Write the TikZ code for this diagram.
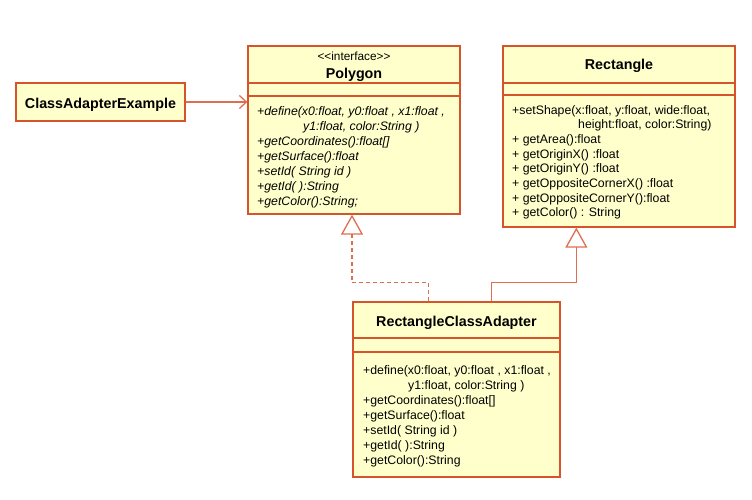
\documentclass[tikz,border=0pt]{standalone}
\usepackage{fontspec}
\setmainfont{Liberation Sans}
\usetikzlibrary{arrows.meta,calc}
\definecolor{umlline}{RGB}{214,84,44}
\definecolor{umlconn}{RGB}{222,110,80}
\definecolor{umlfill}{RGB}{255,255,204}
\begin{document}
\begin{tikzpicture}[x=1pt,y=-1pt,
  classbox/.style={draw=umlline,fill=umlfill,line width=1.3pt,inner sep=0pt},
  title/.style={font=\fontsize{14.3}{17}\selectfont\bfseries,anchor=base,inner sep=0pt},
  stereo/.style={font=\fontsize{11.8}{14}\selectfont,anchor=base,inner sep=0pt},
  meth/.style={font=\fontsize{12.3}{15}\selectfont,anchor=base west,inner sep=0pt},
  imeth/.style={meth,font=\fontsize{12.3}{15}\selectfont\itshape},
  sep/.style={draw=umlline,line width=1.3pt},
  conn/.style={draw=umlconn,line width=1.3pt},
  realize/.style={conn,dash pattern=on 4pt off 3pt,-{Triangle[open,length=20pt,width=22pt,line width=1.3pt]}},
  inherit/.style={conn,-{Triangle[open,length=20pt,width=22pt,line width=1.3pt]}},
  assoc/.style={conn,-{Straight Barb[length=7pt,width=13pt,line width=1.3pt]}}
]
\useasboundingbox (0,0) rectangle (752,499);

% Boxes
\node[classbox,minimum width=212pt,minimum height=168pt] (poly) at (354,130) {};
\node[classbox,minimum width=232pt,minimum height=181pt] (rect) at (619,136.5) {};
\node[classbox,minimum width=207pt,minimum height=175pt] (adapt) at (456.5,389.5) {};
\node[classbox,minimum width=169pt,minimum height=38pt] (cae) at (100.5,102) {};

% Compartment lines
\draw[sep] (poly.west |- 0,83) -- (poly.east |- 0,83);
\draw[sep] (poly.west |- 0,96) -- (poly.east |- 0,96);
\draw[sep] (rect.west |- 0,83) -- (rect.east |- 0,83);
\draw[sep] (rect.west |- 0,95) -- (rect.east |- 0,95);
\draw[sep] (adapt.west |- 0,338) -- (adapt.east |- 0,338);
\draw[sep] (adapt.west |- 0,352) -- (adapt.east |- 0,352);

% Titles
\node[stereo] (polyst) at (354,60) {<\kern0pt<interface>\kern0pt>};
\node[title] (polyt) at (354,78) {Polygon};
\node[title] (rectt) at (619,69) {Rectangle};
\node[title] (adaptt) at (456.5,326) {RectangleClassAdapter};
\node[title] (caet) at (100.5,108) {ClassAdapterExample};

% Polygon methods
\foreach \t [count=\i] in {%
  {+define(x0:float, y0:float , x1:float ,},
  {\hspace*{46pt}y1:float, color:String )},
  {+getCoordinates():float[]},
  {+getSurface():float},
  {+setId( String id )},
  {+getId( ):String},
  {+getColor():String;}}
  \node[imeth] (pm\i) at (257,{115+15*(\i-1)}) {\t};

% Rectangle methods
\foreach \t [count=\i] in {%
  {+setShape(x:float, y:float, wide:float,},
  {\hspace*{66pt}height:float, color:String)},
  {+ getArea():float},
  {+ getOriginX() :float},
  {+ getOriginY() :float},
  {+ getOppositeCornerX() :float},
  {+ getOppositeCornerY():float},
  {+ getColor() : String}}
  \node[meth] (rm\i) at (512,{114+14.7*(\i-1)}) {\t};

% Adapter methods
\foreach \t [count=\i] in {%
  {+define(x0:float, y0:float , x1:float ,},
  {\hspace*{45pt}y1:float, color:String )},
  {+getCoordinates():float[]},
  {+getSurface():float},
  {+setId( String id )},
  {+getId( ):String},
  {+getColor():String}}
  \node[meth] (am\i) at (363,{374+15*(\i-1)}) {\t};

% Connectors
\draw[assoc] (cae.east) -- (cae.east -| poly.west);
\draw[realize] ($(adapt.north west)+(76,0)$) -- ++(0,-19) -| ($(poly.south)+(-2,0)$);
\draw[inherit] ($(adapt.north west)+(139,0)$) -- ++(0,-19) -| ($(rect.south west)+(74,0)$);
\end{tikzpicture}
\end{document}
